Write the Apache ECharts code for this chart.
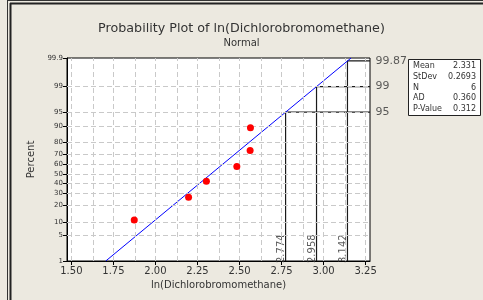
<!DOCTYPE html>
<html>
<head>
<meta charset="utf-8">
<script src="https://cdn.jsdelivr.net/npm/echarts@6/dist/echarts.min.js"></script>
<style>
  html, body { margin: 0; padding: 0; background: #ece9e0; }
  #chart { width: 483px; height: 300px; }
</style>
</head>
<body>
<div id="chart"></div>
<script>
// sample values (ln of concentration) and their plotted percent
const sampleX = [1.874, 2.197, 2.303, 2.484, 2.563, 2.565]
const samplePct = [10.9, 26.6, 42.2, 57.8, 73.4, 89.1]

// fitted normal
const fitMean = 2.331
const fitSd = 0.2693
const fitPct = [1, 99.9]

// reference percentiles marked on the fit line
const refPct = [95, 99, 99.87]
const refX = [2.774, 2.958, 3.142]
const refPctLabels = ['95', '99', '99.87']
const refXLabels = ['2.774', '2.958', '3.142']

// axes
const xMin = 1.474
const xMax = 3.276
const xTicks = [1.5, 1.75, 2.0, 2.25, 2.5, 2.75, 3.0, 3.25]
const xGrid = [1.5, 1.625, 1.75, 1.875, 2.0, 2.125, 2.25, 2.375, 2.5, 2.625, 2.75, 2.875, 3.0, 3.125, 3.25]
const yTickPct = [1, 5, 10, 20, 30, 40, 50, 60, 70, 80, 90, 95, 99, 99.9]
const yGridPct = [5, 10, 20, 30, 40, 50, 60, 70, 80, 90, 95, 99]

// stats box
const statNames = ['Mean', 'StDev', 'N', 'AD', 'P-Value']
const statValues = ['2.331', '0.2693', '6', '0.360', '0.312']

// inverse normal cdf (Acklam) - the probability scale
function probit(p) {
  const a = [-39.69683028665376, 220.9460984245205, -275.9285104469687, 138.3577518672690, -30.66479806614716, 2.506628277459239]
  const b = [-54.47609879822406, 161.5858368580409, -155.6989798598866, 66.80131188771972, -13.28068155288572]
  const c = [-0.007784894002430293, -0.3223964580411365, -2.400758277161838, -2.549732539343734, 4.374664141464968, 2.938163982698783]
  const d = [0.007784695709041462, 0.3224671290700398, 2.445134137142996, 3.754408661907416]
  const pl = 0.02425
  let q, r
  if (p < pl) {
    q = Math.sqrt(-2 * Math.log(p))
    return (((((c[0]*q+c[1])*q+c[2])*q+c[3])*q+c[4])*q+c[5]) / ((((d[0]*q+d[1])*q+d[2])*q+d[3])*q+1)
  } else if (p <= 1 - pl) {
    q = p - 0.5; r = q * q
    return (((((a[0]*r+a[1])*r+a[2])*r+a[3])*r+a[4])*r+a[5])*q / (((((b[0]*r+b[1])*r+b[2])*r+b[3])*r+b[4])*r+1)
  } else {
    q = Math.sqrt(-2 * Math.log(1 - p))
    return -(((((c[0]*q+c[1])*q+c[2])*q+c[3])*q+c[4])*q+c[5]) / ((((d[0]*q+d[1])*q+d[2])*q+d[3])*q+1)
  }
}
const z = pct => probit(pct / 100)
const yMin = z(yTickPct[0])
const yMax = z(yTickPct[yTickPct.length - 1])
const yTickZ = yTickPct.map(z)

const gridColor = '#c9c9c9'
const font = 'DejaVu Sans'

var myChart = echarts.init(document.getElementById('chart'))
var option = {
  backgroundColor: '#ece9e0',
  animation: false,
  textStyle: { fontFamily: font },
  title: {
    text: 'Probability Plot of ln(Dichlorobromomethane)',
    subtext: 'Normal',
    left: 'center',
    top: 17,
    itemGap: 3,
    textStyle: { fontSize: 12.7, fontWeight: 'normal', color: '#333', fontFamily: font },
    subtextStyle: { fontSize: 10, color: '#333', fontFamily: font }
  },
  grid: {
    left: 67,
    right: 113,
    top: 58,
    bottom: 39,
    show: true,
    backgroundColor: '#fff',
    borderColor: '#000',
    borderWidth: 1
  },
  xAxis: {
    type: 'value',
    min: xMin,
    max: xMax,
    name: 'ln(Dichlorobromomethane)',
    nameLocation: 'middle',
    nameGap: 19,
    nameTextStyle: { fontSize: 10, color: '#333' },
    axisLine: { show: true, onZero: false, lineStyle: { color: '#000' } },
    axisTick: { show: true, customValues: xTicks, length: 4, lineStyle: { color: '#000' } },
    axisLabel: {
      customValues: xTicks,
      fontSize: 10,
      color: '#333',
      margin: 5,
      formatter: v => v.toFixed(2)
    },
    splitLine: { show: false }
  },
  yAxis: {
    type: 'value',
    min: yMin,
    max: yMax,
    name: 'Percent',
    nameLocation: 'middle',
    nameGap: 27,
    nameTextStyle: { fontSize: 10, color: '#333' },
    axisLine: { show: true, onZero: false, lineStyle: { color: '#000' } },
    axisTick: { show: true, customValues: yTickZ, length: 4, lineStyle: { color: '#000' } },
    axisLabel: {
      customValues: yTickZ,
      fontSize: 7,
      color: '#333',
      margin: 4,
      formatter: v => {
        let best = 0
        yTickZ.forEach((t, i) => { if (Math.abs(t - v) < Math.abs(yTickZ[best] - v)) best = i })
        return String(yTickPct[best])
      }
    },
    splitLine: { show: false }
  },
  series: [
    {
      // grid lines
      type: 'line',
      data: [],
      silent: true,
      z: 1,
      markLine: {
        silent: true,
        symbol: 'none',
        label: { show: false },
        lineStyle: { color: gridColor, type: [5, 3], width: 1 },
        data: xGrid.map(x => ({ xAxis: x })).concat(yGridPct.map(p => ({ yAxis: z(p) })))
      }
    },
    {
      // fitted line
      type: 'line',
      z: 3,
      symbol: 'none',
      lineStyle: { color: '#0000ff', width: 1 },
      data: fitPct.map(p => [fitMean + fitSd * z(p), z(p)])
    },
    ...refPct.map((p, i) => ({
      type: 'line',
      z: 2,
      symbol: 'none',
      silent: true,
      lineStyle: { color: '#1a1a1a', width: 1.2 },
      data: [[refX[i], yMin], [refX[i], z(p)], [xMax, z(p)]]
    })),
    {
      // labels on the right of the plot
      type: 'scatter',
      z: 4,
      silent: true,
      symbolSize: 1,
      itemStyle: { color: 'rgba(0,0,0,0)' },
      label: {
        show: true,
        position: 'right',
        distance: 5,
        fontSize: 11,
        color: '#333',
        formatter: d => refPctLabels[d.dataIndex]
      },
      data: refPct.map(p => [xMax, z(p)])
    },
    {
      // rotated x labels along the reference lines
      type: 'scatter',
      z: 4,
      silent: true,
      symbolSize: 1,
      itemStyle: { color: 'rgba(0,0,0,0)' },
      label: {
        show: true,
        position: 'inside',
        rotate: 90,
        align: 'left',
        verticalAlign: 'bottom',
        offset: [-2, 1],
        fontSize: 10,
        color: '#333',
        formatter: d => refXLabels[d.dataIndex]
      },
      data: refX.map(x => [x, yMin])
    },
    {
      // samples
      type: 'scatter',
      z: 5,
      symbolSize: 7,
      itemStyle: { color: '#ff0000', opacity: 1 },
      data: sampleX.map((x, i) => [x, z(samplePct[i])])
    }
  ],
  graphic: [
    // window frame
    { type: 'line', shape: { x1: 7.5, y1: 0, x2: 7.5, y2: 300 }, style: { stroke: '#333', lineWidth: 1 } },
    { type: 'line', shape: { x1: 10.5, y1: 3, x2: 10.5, y2: 300 }, style: { stroke: '#222', lineWidth: 2 } },
    { type: 'line', shape: { x1: 7, y1: 0.5, x2: 483, y2: 0.5 }, style: { stroke: '#333', lineWidth: 1 } },
    { type: 'line', shape: { x1: 10, y1: 3.5, x2: 483, y2: 3.5 }, style: { stroke: '#222', lineWidth: 2 } },
    // stats box
    {
      type: 'group',
      left: 408,
      top: 59,
      children: [
        { type: 'rect', shape: { x: 0.5, y: 0.5, width: 72, height: 56 }, style: { fill: '#fff', stroke: '#222', lineWidth: 1 } },
        ...statNames.map((n, i) => ({
          type: 'text', x: 5, y: 7 + i * 10.8,
          style: { text: n, fontSize: 8, fill: '#333', fontFamily: font, verticalAlign: 'middle' }
        })),
        ...statValues.map((v, i) => ({
          type: 'text', x: 68, y: 7 + i * 10.8,
          style: { text: v, fontSize: 8, fill: '#333', fontFamily: font, align: 'right', verticalAlign: 'middle' }
        }))
      ]
    }
  ]
}
option && myChart.setOption(option)
</script>
</body>
</html>
